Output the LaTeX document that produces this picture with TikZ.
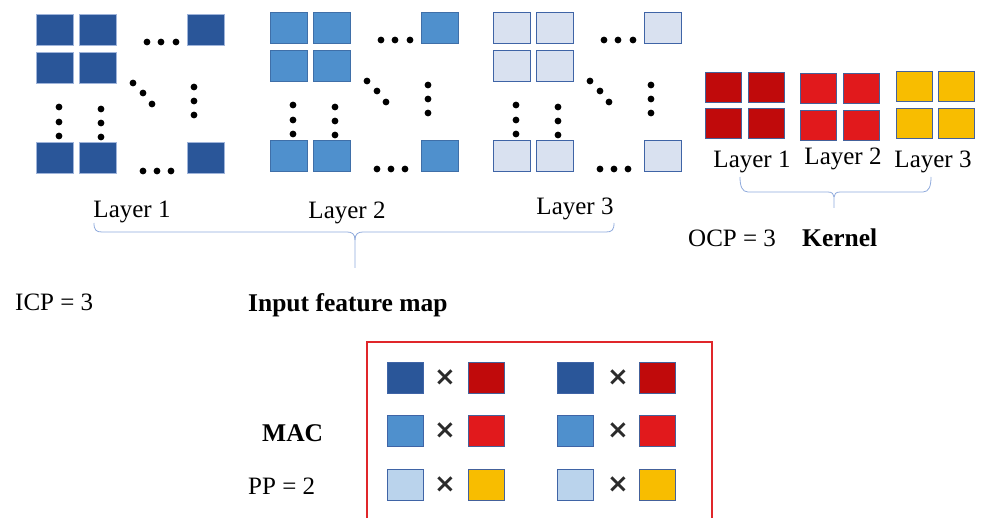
\documentclass[tikz,border=0pt]{standalone}
\usepackage{fontspec}
\setmainfont{Liberation Serif}
\newfontfamily\symfont{DejaVu Sans}
\definecolor{bluedk}{HTML}{2A5699}
\definecolor{bluedkb}{HTML}{9FB4DA}
\definecolor{bluemd}{HTML}{4F90CD}
\definecolor{bluemdb}{HTML}{3F6FA8}
\definecolor{bluelt}{HTML}{D9E1F0}
\definecolor{blueltb}{HTML}{3F64A6}
\definecolor{bluemac}{HTML}{BAD3EC}
\definecolor{reddk}{HTML}{C00A0B}
\definecolor{redmd}{HTML}{E1191C}
\definecolor{yel}{HTML}{F8BD00}
\definecolor{kb}{HTML}{44619A}
\definecolor{bracec}{HTML}{8FAADC}
\definecolor{boxred}{HTML}{E0262A}
\definecolor{crossc}{HTML}{2B2B2B}
\tikzset{
  sq/.style={rectangle, anchor=north west, inner sep=0pt, minimum width=37pt, minimum height=31pt, line width=0.8pt},
  msq/.style={rectangle, anchor=north west, inner sep=0pt, minimum width=36pt, minimum height=31pt, line width=0.8pt},
  dotc/.style={circle, fill=black, inner sep=0pt, minimum size=6.8pt},
  lbl/.style={font=\fontsize{25}{29}\selectfont, anchor=base west, inner sep=0pt},
  lblc/.style={font=\fontsize{25}{29}\selectfont, anchor=base, inner sep=0pt},
  blbl/.style={font=\fontsize{25.5}{29}\selectfont\bfseries, anchor=base west, inner sep=0pt},
  brace/.style={draw=bracec, line width=0.8pt},
  cross/.style={font=\symfont\fontsize{26}{28}\selectfont\bfseries, text=crossc, inner sep=0pt},
}
\newcommand{\fmgrid}[5]{%
  \begin{scope}[shift={(#1,#2)}]
    \foreach \px/\py/\nm in {0/0/a,43/0/b,151/0/c,0/38/d,43/38/e,0/128/f,43/128/g,151/128/h}
      \node[sq, fill=#3, draw=#4] (#5\nm) at (\px,\py) {};
    \foreach \px/\py [count=\i] in {111/28,125/28,140/28,107/157,121/157,135/157,97/69,107/79,116/90,158/73,158/87,158/101,23/93,23/108,23/122,65/95,65/109,65/123}
      \node[dotc] (#5dot\i) at (\px,\py) {};
  \end{scope}}
\begin{document}
\begin{tikzpicture}[x=1pt,y=-1pt]
\useasboundingbox (0,0) rectangle (984,518);
% input feature map layers
\fmgrid{36}{14}{bluedk}{bluedkb}{la}
\fmgrid{270}{12}{bluemd}{bluemdb}{lb}
\fmgrid{493}{12}{bluelt}{blueltb}{lc}
\node[lblc] (t1) at (132,218) {Layer 1};
\node[lblc] (t2) at (347,219) {Layer 2};
\node[lblc] (t3) at (575,215) {Layer 3};
% big brace
\draw[brace] (94,223) .. controls (94,230) and (96,232) .. (102,232) -- (347,232)
  .. controls (352,232) and (355,234) .. (355,240) -- (355,268);
\draw[brace] (614,223) .. controls (614,230) and (612,232) .. (606,232) -- (363,232)
  .. controls (358,232) and (355,234) .. (355,240);
% kernels
\foreach \px/\py/\nm in {705/72/a,748/72/b,705/108/c,748/108/d}
  \node[sq, minimum width=36pt, minimum height=30pt, fill=reddk, draw=kb] (k1\nm) at (\px,\py) {};
\foreach \px/\py/\nm in {800/73/a,843/73/b,800/110/c,843/110/d}
  \node[sq, minimum width=36pt, minimum height=30pt, fill=redmd, draw=kb] (k2\nm) at (\px,\py) {};
\foreach \px/\py/\nm in {896/71/a,938/71/b,896/108/c,938/108/d}
  \node[sq, minimum width=36pt, minimum height=30pt, fill=yel, draw=kb] (k3\nm) at (\px,\py) {};
\node[lblc] (kt1) at (752,168) {Layer 1};
\node[lblc] (kt2) at (843,165) {Layer 2};
\node[lblc] (kt3) at (933,168) {Layer 3};
\draw[brace] (740,177) .. controls (740,186) and (742,192) .. (748,192) -- (828,192)
  .. controls (832,192) and (834,194) .. (834,197) -- (834,208);
\draw[brace] (931,177) .. controls (931,186) and (929,192) .. (923,192) -- (840,192)
  .. controls (836,192) and (834,194) .. (834,197);
% texts
\node[lbl] (ocp) at (688,247) {OCP = 3};
\node[blbl] (kern) at (802,247) {Kernel};
\node[lbl] (icp) at (15,310) {ICP = 3};
\node[blbl] (ifm) at (248,311) {Input feature map};
\node[blbl] (mac) at (262,441) {MAC};
\node[lbl] (pp) at (248,494) {PP = 2};
% MAC box
\draw[draw=boxred, line width=2pt] (367,520) -- (367,342) -- (712,342) -- (712,520);
\foreach \ry/\cin/\cke/\rw in {362/bluedk/reddk/1,415/bluemd/redmd/2,469/bluemac/yel/3}{
  \node[msq, fill=\cin, draw=blueltb] (mi\rw) at (387,\ry) {};
  \node[cross] (mx\rw) at (445,\ry+16) {×};
  \node[msq, fill=\cke, draw=kb] (mk\rw) at (468,\ry) {};
  \node[msq, fill=\cin, draw=blueltb] (ni\rw) at (557,\ry) {};
  \node[cross] (nx\rw) at (618,\ry+16) {×};
  \node[msq, fill=\cke, draw=kb] (nk\rw) at (639,\ry) {};
}
\end{tikzpicture}
\end{document}
